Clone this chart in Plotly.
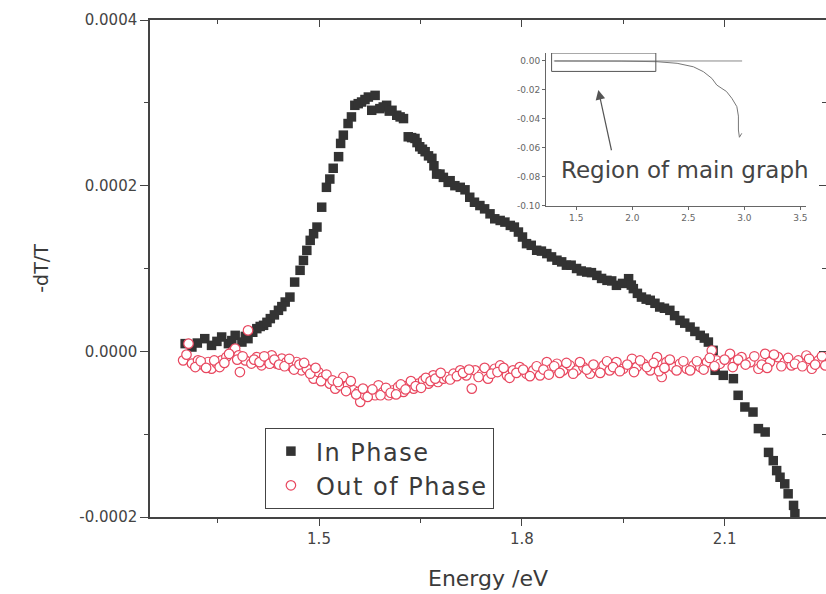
import plotly.graph_objects as go

# ---------------- data ----------------
in_phase_energy = [1.302, 1.312, 1.331, 1.341, 1.356, 1.366, 1.376, 1.386, 1.395, 1.408,
                   1.418, 1.428, 1.440, 1.450, 1.457, 1.464, 1.472, 1.477, 1.482, 1.487,
                   1.492, 1.497, 1.504, 1.511, 1.516, 1.521, 1.529, 1.532, 1.536, 1.543,
                   1.548, 1.553, 1.563, 1.573, 1.583, 1.578, 1.590, 1.600, 1.608, 1.615,
                   1.625, 1.632, 1.642, 1.649, 1.657, 1.667, 1.674, 1.684, 1.691,
                   1.679, 1.694, 1.709, 1.723, 1.738, 1.753, 1.768, 1.783, 1.795, 1.807,
                   1.822, 1.837, 1.852, 1.866, 1.881, 1.896, 1.911, 1.926, 1.940, 1.958,
                   1.965, 1.977, 1.990, 2.004, 2.019, 2.034, 2.049, 2.064, 2.076, 2.083,
                   2.086, 2.098, 2.113, 2.120, 2.130, 2.142, 2.150, 2.160, 2.165, 2.172,
                   2.177, 2.182, 2.189, 2.194, 2.202, 2.204,
                   # second row of the band
                   1.320, 1.349, 1.371, 1.391, 1.402, 1.413, 1.423, 1.434, 1.445,
                   1.558, 1.568, 1.595, 1.604, 1.620, 1.637, 1.645, 1.653, 1.662, 1.670,
                   1.701, 1.716, 1.730, 1.745, 1.760, 1.775, 1.789, 1.801, 1.814, 1.829,
                   1.844, 1.859, 1.873, 1.888, 1.903, 1.918, 1.933, 1.949, 1.962, 1.971,
                   1.984, 1.997, 2.011, 2.026, 2.041, 2.056, 2.070]
in_phase_signal = [0.0000093, 0.0000052, 0.0000153, 0.0000072, 0.0000173, 0.0000093, 0.0000193,
                   0.0000112, 0.0000153, 0.0000274, 0.0000314, 0.0000395, 0.0000495, 0.0000595,
                   0.0000655, 0.0000836, 0.0000978, 0.0001098, 0.0001219, 0.000134, 0.000142,
                   0.000150, 0.000174, 0.000198, 0.000208, 0.000221, 0.000235, 0.000251,
                   0.000261, 0.000275, 0.000283, 0.000297, 0.000301, 0.000307, 0.000309,
                   0.000291, 0.000293, 0.000297, 0.000291, 0.000285, 0.000281, 0.000259,
                   0.000257, 0.000247, 0.000241, 0.000233, 0.000214, 0.000210, 0.000204,
                   0.000214, 0.000206, 0.000198, 0.000186, 0.000176, 0.000166, 0.000158,
                   0.000152, 0.000144, 0.000130, 0.000122, 0.000118, 0.000110, 0.000104,
                   0.000100, 0.0000957, 0.0000917, 0.0000857, 0.0000797, 0.0000877, 0.0000757,
                   0.0000655, 0.0000616, 0.0000535, 0.0000495, 0.0000374, 0.0000293, 0.0000193,
                   0.0000112, 0.0000012,
                   -0.0000229, -0.000029, -0.000033, -0.0000531, -0.0000672, -0.0000733,
                   -0.0000933, -0.0000974, -0.000122, -0.000132, -0.000144, -0.000152,
                   -0.000160, -0.000172, -0.000186, -0.000196,
                   0.0000100, 0.0000120, 0.0000130, 0.0000180, 0.0000230, 0.0000300,
                   0.0000350, 0.0000440, 0.0000540,
                   0.000299, 0.000304, 0.000295, 0.000290, 0.000283, 0.000258, 0.000252,
                   0.000244, 0.000236, 0.000224,
                   0.000200, 0.000195, 0.000180, 0.000172, 0.000160, 0.000156, 0.000150,
                   0.000138, 0.000128, 0.000121, 0.000114, 0.000108, 0.000104, 0.000097,
                   0.000095, 0.000088, 0.000085, 0.000082, 0.000080, 0.000070, 0.000063,
                   0.000058, 0.000052, 0.000043, 0.000034, 0.000024, 0.000016]

out_phase_energy = [1.307, 1.299, 1.312, 1.321, 1.329, 1.336, 1.341, 1.349, 1.356, 1.363,
                    1.371, 1.376, 1.381, 1.383, 1.391, 1.395, 1.400, 1.408, 1.415, 1.423,
                    1.430, 1.437, 1.445, 1.452, 1.460, 1.467, 1.474, 1.482, 1.492, 1.499,
                    1.506, 1.516, 1.524, 1.531, 1.536, 1.543, 1.551, 1.558, 1.561, 1.568,
                    1.575, 1.583, 1.588, 1.595, 1.603, 1.610, 1.617, 1.625, 1.632, 1.640,
                    1.647, 1.654, 1.662, 1.669, 1.676, 1.684, 1.689, 1.699, 1.709, 1.718,
                    1.726, 1.731, 1.741, 1.750, 1.760, 1.768, 1.778, 1.787, 1.797, 1.807,
                    1.817, 1.827, 1.837, 1.844, 1.852, 1.861, 1.871, 1.881, 1.891, 1.901,
                    1.911, 1.921, 1.930, 1.940, 1.950, 1.963, 1.970, 1.980, 1.990, 2.000,
                    2.007, 2.014, 2.024, 2.034, 2.044, 2.054, 2.064, 2.074, 2.081, 2.088,
                    2.093, 2.108, 2.115, 2.125, 2.138, 2.150, 2.160, 2.167, 2.179, 2.189,
                    2.199, 2.209, 2.221, 2.229, 2.239, 2.249,
                    # second row of the band
                    1.304, 1.317, 1.325, 1.333, 1.345, 1.353, 1.360, 1.367, 1.379, 1.387,
                    1.404, 1.412, 1.419, 1.427, 1.434, 1.441, 1.449, 1.456, 1.463, 1.471,
                    1.478, 1.487, 1.495, 1.503, 1.511, 1.520, 1.528, 1.540, 1.547, 1.555,
                    1.565, 1.572, 1.579, 1.591, 1.599, 1.606, 1.614, 1.621, 1.628, 1.636,
                    1.643, 1.651, 1.658, 1.665, 1.672, 1.680, 1.694, 1.704, 1.713, 1.722,
                    1.736, 1.745, 1.755, 1.764, 1.773, 1.782, 1.792, 1.802, 1.812, 1.822,
                    1.832, 1.840, 1.848, 1.856, 1.866, 1.876, 1.886, 1.896, 1.906, 1.916,
                    1.926, 1.935, 1.945, 1.956, 1.966, 1.975, 1.985, 1.995, 2.003, 2.011,
                    2.019, 2.029, 2.039, 2.049, 2.059, 2.069, 2.078, 2.085, 2.100, 2.112,
                    2.120, 2.131, 2.144, 2.155, 2.163, 2.173, 2.184, 2.194, 2.204, 2.215,
                    2.225, 2.234, 2.244]
out_phase_signal = [0.0000093, -0.0000109, -0.0000148, -0.0000109, -0.0000169, -0.0000129,
                    -0.0000209, -0.0000148, -0.0000109, -0.0000069, -0.0000008, 0.0000033,
                    -0.0000048, -0.000025, -0.0000109, 0.0000253, -0.0000148, -0.0000069,
                    -0.0000169, -0.0000109, -0.0000048, -0.0000148, -0.0000088, -0.0000129,
                    -0.000019, -0.0000129, -0.0000229, -0.0000209, -0.000033, -0.000025,
                    -0.000031, -0.000039, -0.000045, -0.000041, -0.000031, -0.000041,
                    -0.000047, -0.000049, -0.000061, -0.000053, -0.000049, -0.000053,
                    -0.000041, -0.000049, -0.000053, -0.000047, -0.000043, -0.000049,
                    -0.000041, -0.000045, -0.000039, -0.000035, -0.000039, -0.000029,
                    -0.000037, -0.000033, -0.000031, -0.000027, -0.000023, -0.000029,
                    -0.000045, -0.000023, -0.000027, -0.000033, -0.000021, -0.000017,
                    -0.000029, -0.000023, -0.000019, -0.000027, -0.000023, -0.000029,
                    -0.000013, -0.000021, -0.000015, -0.000023, -0.000017, -0.000023,
                    -0.000019, -0.000027, -0.000021, -0.000017, -0.000023, -0.000013,
                    -0.000021, -0.000009, -0.000019, -0.000015, -0.000023, -0.000007,
                    -0.000031, -0.000013, -0.000019, -0.000015, -0.000021, -0.000017,
                    -0.000019, -0.000013, 0.000001, -0.000011,
                    -0.000015, -0.000003, -0.000013, -0.000007, -0.000013, -0.000021,
                    -0.000003, -0.000013, -0.000007, -0.000013, -0.000017, -0.000011,
                    -0.000005, -0.000021, -0.000011, -0.000017,
                    -0.000004, -0.000019, -0.000012, -0.000020, -0.000011, -0.000019,
                    -0.000014, -0.000003, -0.000010, -0.000006, -0.000010, -0.000013,
                    -0.000006, -0.000015, -0.000010, -0.000016, -0.000018, -0.000009,
                    -0.000022, -0.000016, -0.000014, -0.000027, -0.000020, -0.000036,
                    -0.000028, -0.000035, -0.000037, -0.000048, -0.000036, -0.000052,
                    -0.000045, -0.000055, -0.000046, -0.000053, -0.000044, -0.000050,
                    -0.000052, -0.000040, -0.000046, -0.000036, -0.000042, -0.000044,
                    -0.000032, -0.000036, -0.000033, -0.000026, -0.000034, -0.000030,
                    -0.000026, -0.000022, -0.000031, -0.000020, -0.000027, -0.000025,
                    -0.000020, -0.000032, -0.000026, -0.000022, -0.000030, -0.000018,
                    -0.000022, -0.000028, -0.000018, -0.000026, -0.000014, -0.000027,
                    -0.000013, -0.000022, -0.000016, -0.000026, -0.000012, -0.000019,
                    -0.000024, -0.000016, -0.000025, -0.000011, -0.000019, -0.000014,
                    -0.000024, -0.000020, -0.000010, -0.000023, -0.000012, -0.000023,
                    -0.000012, -0.000022, -0.000008, -0.000018, -0.000010, -0.000019,
                    -0.000010, -0.000016, -0.000006, -0.000016, -0.000020, -0.000004,
                    -0.000018, -0.000008, -0.000015, -0.000018, -0.000009, -0.000016,
                    -0.000006]

# inset: wide-range spectrum
inset_energy = [1.30, 1.60, 1.90, 2.22, 2.40, 2.545, 2.635, 2.71, 2.754, 2.80, 2.84,
                2.888, 2.933, 2.947, 2.947, 2.956, 2.977]
inset_signal = [0.0, 0.0002, -0.0001, -0.0005, -0.0016, -0.004, -0.0074, -0.012, -0.0166,
                -0.019, -0.021, -0.0257, -0.0315, -0.038, -0.0476, -0.0526, -0.0499]
inset_zero_energy = [1.31, 2.98]
inset_zero_signal = [0.0, 0.0]

# tick labels
main_x_ticks = [1.5, 1.8, 2.1]
main_x_ticktext = ["1.5", "1.8", "2.1"]
main_x_minor = [1.35, 1.65, 1.95, 2.25]
main_y_ticks = [-0.0002, 0.0, 0.0002, 0.0004]
main_y_ticktext = ["-0.0002", "0.0000", "0.0002", "0.0004"]
main_y_minor = [-0.0001, 0.0001, 0.0003]
inset_x_ticks = [1.5, 2.0, 2.5, 3.0, 3.5]
inset_x_ticktext = ["1.5", "2.0", "2.5", "3.0", "3.5"]
inset_y_ticks = [-0.10, -0.08, -0.06, -0.04, -0.02, 0.0]
inset_y_ticktext = ["-0.10", "-0.08", "-0.06", "-0.04", "-0.02", "0.00"]

# ---------------- figure ----------------
FONT = "DejaVu Sans"
AX = "#444444"
INS = "#666666"
WIDE = '<span style="letter-spacing:1.5px">{}</span>'

fig = go.Figure()
fig.add_trace(go.Scatter(
    x=in_phase_energy, y=in_phase_signal, mode="markers", name=WIDE.format("In Phase"),
    marker=dict(symbol="square", size=9.5, color="#333333", line=dict(width=0))))
fig.add_trace(go.Scatter(
    x=out_phase_energy, y=out_phase_signal, mode="markers", name=WIDE.format("Out of Phase"),
    marker=dict(symbol="circle", size=9.5, color="white",
                line=dict(color="#e8475f", width=1.2))))

# inset traces
fig.add_trace(go.Scatter(x=inset_zero_energy, y=inset_zero_signal, mode="lines",
                         xaxis="x2", yaxis="y2", showlegend=False,
                         line=dict(color="#888888", width=1)))
fig.add_trace(go.Scatter(x=inset_energy, y=inset_signal, mode="lines",
                         xaxis="x2", yaxis="y2", showlegend=False,
                         line=dict(color="#777777", width=1)))

# invisible trace to draw mirrored top/right axes
fig.add_trace(go.Scatter(x=[1.5], y=[0.0], xaxis="x3", yaxis="y3", mode="markers",
                         marker=dict(opacity=0), showlegend=False, hoverinfo="skip"))

XR = [1.25, 2.25]
YR = [-0.0002, 0.0004]

fig.update_layout(
    width=826, height=594,
    margin=dict(l=150, r=0, t=20, b=77, autoexpand=False),
    paper_bgcolor="white", plot_bgcolor="white",
    font=dict(family=FONT, color=AX),
    showlegend=True,
    legend=dict(x=0.170, y=0.179, xanchor="left", yanchor="top",
                bgcolor="white", bordercolor=AX, borderwidth=1,
                font=dict(family=FONT, size=24, color="#3a3a3a"),
                itemwidth=40, tracegroupgap=0),
    xaxis=dict(range=XR, domain=[0, 1], anchor="y", automargin=False,
               tickmode="array", tickvals=main_x_ticks, ticktext=main_x_ticktext,
               ticks="outside", ticklen=7, tickwidth=1.3, tickcolor=AX,
               minor=dict(tickmode="array", tickvals=main_x_minor, ticks="outside",
                          ticklen=4, tickwidth=1.3, tickcolor=AX, showgrid=False),
               showline=True, linecolor=AX, linewidth=1.5,
               showgrid=False, zeroline=False,
               tickfont=dict(family=FONT, size=15, color=AX),
               title=dict(text="Energy /eV", standoff=24,
                          font=dict(family=FONT, size=22, color="#3a3a3a"))),
    yaxis=dict(range=YR, domain=[0, 1], anchor="x", automargin=False,
               tickmode="array", tickvals=main_y_ticks, ticktext=main_y_ticktext,
               ticks="outside", ticklen=8, tickwidth=1.3, tickcolor=AX,
               minor=dict(tickmode="array", tickvals=main_y_minor, ticks="outside",
                          ticklen=4, tickwidth=1.3, tickcolor=AX, showgrid=False),
               showline=True, linecolor=AX, linewidth=1.5,
               showgrid=False, zeroline=False,
               tickfont=dict(family=FONT, size=15, color=AX),
               title=dict(text="-dT/T", standoff=26,
                          font=dict(family=FONT, size=19, color="#3a3a3a"))),
    xaxis3=dict(range=XR, overlaying="x", side="top", anchor="y3", automargin=False,
                tickmode="array", tickvals=main_x_ticks, showticklabels=False,
                ticks="inside", ticklen=7, tickwidth=1.3, tickcolor=AX,
                minor=dict(tickmode="array", tickvals=main_x_minor, ticks="inside",
                           ticklen=4, tickwidth=1.3, tickcolor=AX, showgrid=False),
                showline=True, linecolor=AX, linewidth=1.5,
                showgrid=False, zeroline=False),
    yaxis3=dict(range=YR, overlaying="y", side="right", anchor="x3", automargin=False,
                tickmode="array", tickvals=main_y_ticks, showticklabels=False,
                ticks="inside", ticklen=7, tickwidth=1.3, tickcolor=AX,
                minor=dict(tickmode="array", tickvals=main_y_minor, ticks="inside",
                           ticklen=4, tickwidth=1.3, tickcolor=AX, showgrid=False),
                showline=True, linecolor=AX, linewidth=1.5,
                showgrid=False, zeroline=False),
    xaxis2=dict(range=[1.23, 3.55], domain=[0.5858, 0.9704], anchor="y2", automargin=False,
                tickmode="array", tickvals=inset_x_ticks, ticktext=inset_x_ticktext,
                ticks="outside", ticklen=3, tickwidth=1, tickcolor=INS,
                showline=True, linecolor=INS, linewidth=1,
                showgrid=False, zeroline=False,
                tickfont=dict(family=FONT, size=9, color=INS)),
    yaxis2=dict(range=[-0.10, 0.0055], domain=[0.6258, 0.9336], anchor="x2", automargin=False,
                tickmode="array", tickvals=inset_y_ticks, ticktext=inset_y_ticktext,
                ticks="outside", ticklen=3, tickwidth=1, tickcolor=INS,
                showline=True, linecolor=INS, linewidth=1,
                showgrid=False, zeroline=False,
                tickfont=dict(family=FONT, size=9, color=INS)),
)

# box marking the main-graph region inside the inset
fig.add_shape(type="rect", xref="x2", yref="y2", x0=1.28, x1=2.21, y0=-0.0072, y1=0.0055,
              line=dict(color="#555555", width=1), fillcolor="rgba(0,0,0,0)")

# arrow and label
fig.add_annotation(xref="x2", yref="y2", axref="x2", ayref="y2",
                   x=1.697, y=-0.020, ax=1.817, ay=-0.0626, text="",
                   showarrow=True, arrowhead=2, arrowsize=1.6, arrowwidth=1.2,
                   arrowcolor="#555555")
fig.add_annotation(xref="x2", yref="y2", x=2.471, y=-0.0752, text="Region of main graph",
                   showarrow=False, xanchor="center", yanchor="middle",
                   font=dict(family=FONT, size=23, color="#444444"))

fig.write_html("out.html", config={"displayModeBar": False},
               post_script="document.body.style.margin='0';document.body.style.overflow='hidden';")
